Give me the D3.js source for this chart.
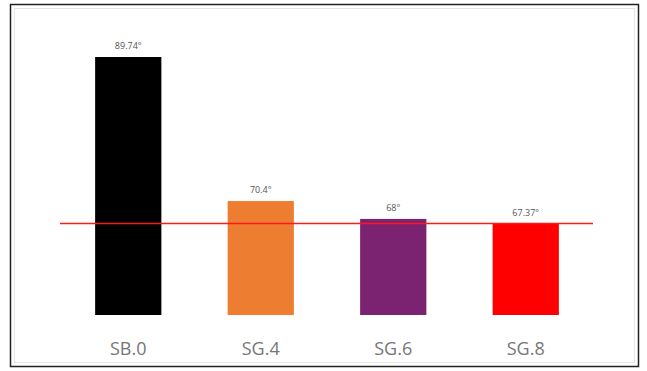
<!DOCTYPE html>
<html>
<head>
<meta charset="utf-8">
<script src="https://cdn.jsdelivr.net/npm/d3@7"></script>
<style>
  body { margin: 0; background: #fff; }
  svg { display: block; }
</style>
</head>
<body>
<div id="chart"></div>
<script>
// chart data
const categories = ['SB.0', 'SG.4', 'SG.6', 'SG.8'];
const values = [89.74, 70.4, 68, 67.37];
const valueLabels = ['89.74°', '70.4°', '68°', '67.37°'];
const barColors = ['#000000', '#ED7D31', '#7B2270', '#FF0000'];
const refLine = 67.37;

const W = 647, H = 371;
const svg = d3.select('#chart').append('svg')
  .attr('width', W).attr('height', H);

// frame: outer dark border + faint inner border
svg.append('rect')
  .attr('x', 10.5).attr('y', 4.5).attr('width', 628).attr('height', 362)
  .attr('fill', '#fff').attr('stroke', '#222').attr('stroke-width', 1.5);
svg.append('rect')
  .attr('x', 14.5).attr('y', 8.5).attr('width', 620).attr('height', 354)
  .attr('fill', 'none').attr('stroke', '#e4e4e4').attr('stroke-width', 1);

const x = d3.scaleBand()
  .domain(categories)
  .range([62, 592])
  .paddingInner(0.5)
  .paddingOuter(0.25);

const baseline = 315;
const y = d3.scaleLinear().domain([55.1, 89.74]).range([baseline, 57]);

svg.selectAll('rect.bar')
  .data(values)
  .join('rect')
  .attr('class', 'bar')
  .attr('x', (d, i) => x(categories[i]))
  .attr('y', d => y(d))
  .attr('width', x.bandwidth())
  .attr('height', d => baseline - y(d))
  .attr('fill', (d, i) => barColors[i]);

svg.selectAll('text.val')
  .data(values)
  .join('text')
  .attr('class', 'val')
  .attr('x', (d, i) => x(categories[i]) + x.bandwidth() / 2)
  .attr('y', d => y(d) - 8)
  .attr('text-anchor', 'middle')
  .attr('font-family', 'Open Sans, sans-serif')
  .attr('font-size', '9px')
  .attr('fill', '#555')
  .text((d, i) => valueLabels[i]);

svg.selectAll('text.cat')
  .data(categories)
  .join('text')
  .attr('class', 'cat')
  .attr('x', d => x(d) + x.bandwidth() / 2)
  .attr('y', 355)
  .attr('text-anchor', 'middle')
  .attr('font-family', 'Open Sans, sans-serif')
  .attr('font-size', '18px')
  .attr('fill', '#777')
  .text(d => d);

// reference line
svg.append('line')
  .attr('x1', 60).attr('x2', 593)
  .attr('y1', y(refLine)).attr('y2', y(refLine))
  .attr('stroke', '#ff1a1a').attr('stroke-width', 1.5);
</script>
</body>
</html>
